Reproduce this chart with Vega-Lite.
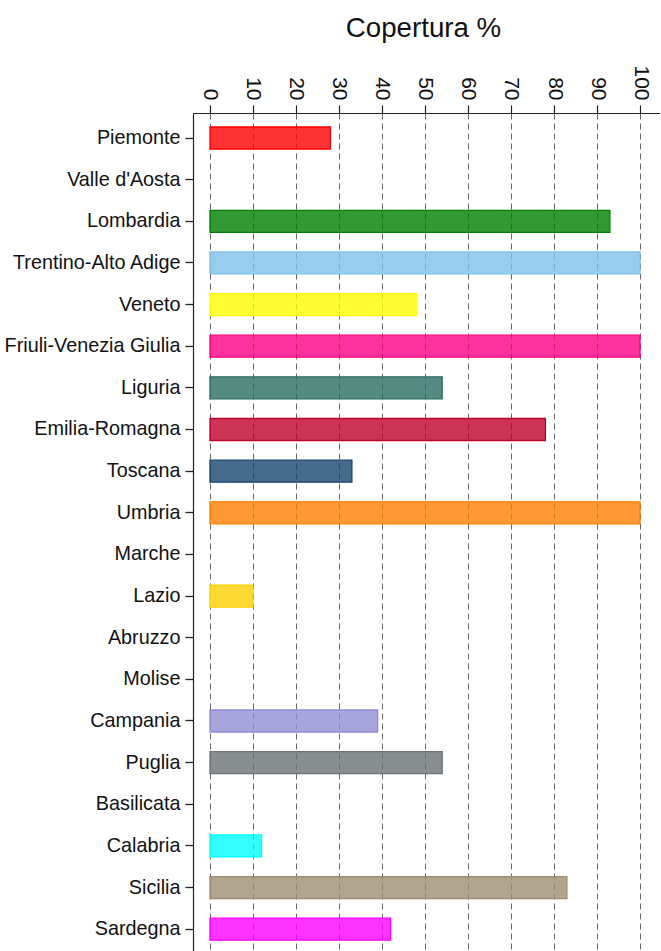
{
  "$schema": "https://vega.github.io/schema/vega-lite/v6.json",
  "width": 467,
  "height": 838,
  "padding": {"left": 4, "top": 14, "right": 0, "bottom": 0},
  "background": "white",
  "config": {
    "view": {"stroke": null},
    "font": "Liberation Sans"
  },
  "data": {
    "values": [
      {"regione": "Piemonte", "copertura": 28},
      {"regione": "Valle d'Aosta", "copertura": 0},
      {"regione": "Lombardia", "copertura": 93},
      {"regione": "Trentino-Alto Adige", "copertura": 100},
      {"regione": "Veneto", "copertura": 48},
      {"regione": "Friuli-Venezia Giulia", "copertura": 100},
      {"regione": "Liguria", "copertura": 54},
      {"regione": "Emilia-Romagna", "copertura": 78},
      {"regione": "Toscana", "copertura": 33},
      {"regione": "Umbria", "copertura": 100},
      {"regione": "Marche", "copertura": 0},
      {"regione": "Lazio", "copertura": 10},
      {"regione": "Abruzzo", "copertura": 0},
      {"regione": "Molise", "copertura": 0},
      {"regione": "Campania", "copertura": 39},
      {"regione": "Puglia", "copertura": 54},
      {"regione": "Basilicata", "copertura": 0},
      {"regione": "Calabria", "copertura": 12},
      {"regione": "Sicilia", "copertura": 83},
      {"regione": "Sardegna", "copertura": 42}
    ]
  },
  "transform": [{"filter": "datum.copertura > 0"}],
  "mark": {"type": "bar", "fillOpacity": 0.8, "strokeWidth": 1.3, "strokeOpacity": 1},
  "encoding": {
    "y": {
      "field": "regione",
      "type": "nominal",
      "sort": null,
      "scale": {
        "domain": ["Piemonte", "Valle d'Aosta", "Lombardia", "Trentino-Alto Adige", "Veneto", "Friuli-Venezia Giulia", "Liguria", "Emilia-Romagna", "Toscana", "Umbria", "Marche", "Lazio", "Abruzzo", "Molise", "Campania", "Puglia", "Basilicata", "Calabria", "Sicilia", "Sardegna"],
        "paddingInner": 0.4716,
        "paddingOuter": 0.2978,
        "align": 0.5645
      },
      "axis": {
        "title": null,
        "labelFontSize": 19.8,
        "labelColor": "#111",
        "labelPadding": 5,
        "ticks": true,
        "tickSize": 8,
        "tickWidth": 1.3,
        "tickColor": "#222",
        "domain": true,
        "domainWidth": 1.2,
        "domainColor": "#222",
        "labelLimit": 300,
        "grid": false
      }
    },
    "x": {
      "field": "copertura",
      "type": "quantitative",
      "scale": {"domain": [-3.95, 104.65], "nice": false, "zero": false},
      "axis": {
        "orient": "top",
        "title": "Copertura %",
        "titleFontSize": 27.7,
        "titleFontWeight": "normal",
        "titleColor": "#111",
        "titlePadding": 22,
        "titleX": 230,
        "values": [0, 10, 20, 30, 40, 50, 60, 70, 80, 90, 100],
        "labelAngle": 90,
        "labelAlign": "right",
        "labelBaseline": "middle",
        "labelFontSize": 21,
        "labelColor": "#111",
        "labelPadding": 5,
        "labelFlush": false,
        "labelOverlap": false,
        "ticks": true,
        "tickSize": 8,
        "tickWidth": 1.2,
        "tickColor": "#222",
        "domain": true,
        "domainWidth": 1.2,
        "domainColor": "#222",
        "grid": true,
        "gridColor": "#666",
        "gridDash": [6, 4],
        "gridWidth": 1
      }
    },
    "fill": {
      "field": "regione",
      "type": "nominal",
      "legend": null,
      "scale": {
        "domain": ["Piemonte", "Lombardia", "Trentino-Alto Adige", "Veneto", "Friuli-Venezia Giulia", "Liguria", "Emilia-Romagna", "Toscana", "Umbria", "Lazio", "Campania", "Puglia", "Calabria", "Sicilia", "Sardegna"],
        "range": ["#FF0000", "#008000", "#80C0EA", "#FFFF00", "#FF0080", "#2A6D60", "#BF002A", "#16456D", "#FF8000", "#FFD000", "#928DD3", "#6C7274", "#00FFFF", "#9C8D6F", "#FF00FF"]
      }
    },
    "stroke": {
      "field": "regione",
      "type": "nominal",
      "legend": null,
      "scale": {
        "domain": ["Piemonte", "Lombardia", "Trentino-Alto Adige", "Veneto", "Friuli-Venezia Giulia", "Liguria", "Emilia-Romagna", "Toscana", "Umbria", "Lazio", "Campania", "Puglia", "Calabria", "Sicilia", "Sardegna"],
        "range": ["#FF0000", "#008000", "#80C0EA", "#FFFF00", "#FF0080", "#2A6D60", "#BF002A", "#16456D", "#FF8000", "#FFD000", "#928DD3", "#6C7274", "#00FFFF", "#9C8D6F", "#FF00FF"]
      }
    }
  }
}
